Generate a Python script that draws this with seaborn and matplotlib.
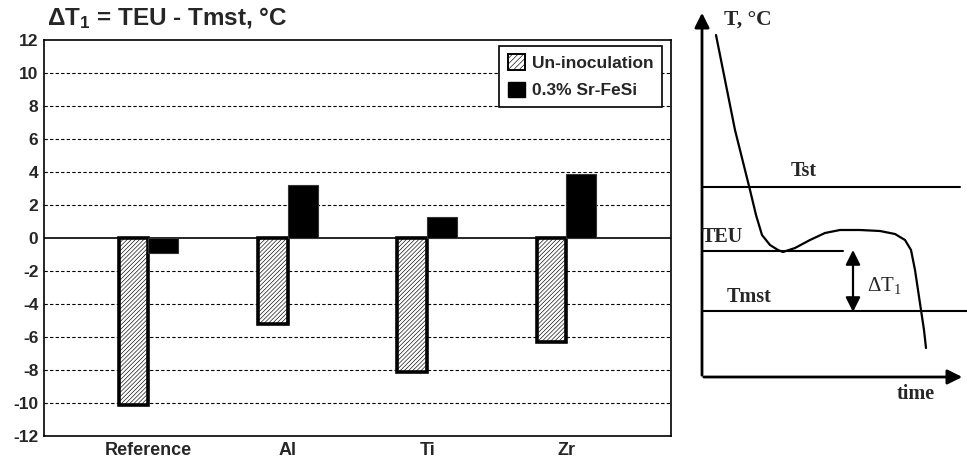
import matplotlib
matplotlib.use("Agg")
import matplotlib.pyplot as plt
import seaborn as sns
import pandas as pd
from matplotlib.patches import Patch

# ---- data ----
categories = ["Reference", "Al", "Ti", "Zr"]
un_inoc = [-10.1, -5.2, -8.1, -6.3]
sr_fesi = [-0.9, 3.2, 1.3, 3.9]
series_names = ["Un-inoculation", "0.3% Sr-FeSi"]
y_ticks = list(range(-12, 13, 2))

# schematic cooling curve (pixel-like coordinates of the sketch panel)
curve_x = [716, 725, 735, 745, 750, 756, 762, 770, 778, 783, 795, 810, 825, 840,
           860, 880, 895, 905, 911, 915, 918, 921, 924, 926]
curve_y = [35, 80, 130, 170, 190, 215, 235, 245, 250, 252, 248, 240, 233, 230,
           230, 231, 234, 240, 250, 270, 290, 310, 330, 348]
level_names = ["Tst", "TEU", "Tmst"]
level_y = [187, 251, 311]
level_x_end = [960, 843, 967]

# ---- style ----
sns.set_theme(style="white")
plt.rcParams['font.family'] = ['Liberation Sans', 'DejaVu Sans']
plt.rcParams['mathtext.fontset'] = 'custom'
plt.rcParams['mathtext.rm'] = 'Liberation Sans'
plt.rcParams['mathtext.bf'] = 'Liberation Sans:bold'
plt.rcParams['hatch.linewidth'] = 0.45

fig = plt.figure(figsize=(9.67, 4.66), dpi=100)
ax = fig.add_axes([44/967, 30/466, (671-44)/967, 396/466])

df = pd.DataFrame({
    "cat": categories * 2,
    "val": un_inoc + sr_fesi,
    "series": [series_names[0]] * len(categories) + [series_names[1]] * len(categories),
})
sns.barplot(data=df, x="cat", y="val", hue="series", order=categories,
            hue_order=series_names, palette=["white", "black"], width=0.43,
            saturation=1, ax=ax, legend=False, zorder=3)

for bar in ax.containers[0]:
    bar.set_hatch("////////")
    bar.set_edgecolor("black")
    bar.set_linewidth(2.6)
for bar in ax.containers[1]:
    bar.set_edgecolor("#333333")
    bar.set_linewidth(0.8)

for t in y_ticks:
    if t in (-12, 12):
        continue
    if t == 0:
        ax.axhline(0, color="black", lw=1.2, zorder=2)
    else:
        ax.axhline(t, color="black", lw=0.8, ls=(0, (3, 2)), zorder=1)

ax.set_ylim(-12, 12)
ax.set_xlim(-0.75, 3.75)
ax.set_yticks(y_ticks)
ax.set_yticklabels([str(t) for t in y_ticks], fontsize=12.5, fontweight="bold")
ax.set_xticks(range(len(categories)))
ax.set_xticklabels(categories, fontsize=13, fontweight="bold")
ax.tick_params(axis="both", length=0, pad=4)
ax.set_xlabel("")
ax.set_ylabel("")
for s in ax.spines.values():
    s.set_color("black")
    s.set_linewidth(1.2)

handles = [Patch(facecolor="white", edgecolor="black", hatch="//////", lw=1.4, label=series_names[0]),
           Patch(facecolor="black", edgecolor="black", label=series_names[1])]
leg = ax.legend(handles=handles, loc="upper right", bbox_to_anchor=(0.989, 0.99),
                frameon=True, fancybox=False, edgecolor="black", framealpha=1,
                prop={"weight": "bold", "size": 12.5}, handlelength=1.0,
                handleheight=1.0, handletextpad=0.4, borderpad=0.5, labelspacing=0.6,
                borderaxespad=0.1)
leg.get_frame().set_linewidth(1.2)

fig.text(47/967, 1 - 18/466, r"Δ$\mathbf{T_1}$ = TEU - Tmst, °C",
         fontsize=17.5, fontweight="bold", ha="left", va="center")

# ---- schematic panel ----
ax2 = fig.add_axes([690/967, 0, 277/967, 1])
ax2.set_xlim(690, 967)
ax2.set_ylim(466, 0)
ax2.axis("off")

ax2.annotate("", xy=(702, 10), xytext=(702, 378),
             arrowprops=dict(arrowstyle="-|>", lw=2, color="black", mutation_scale=22))
ax2.annotate("", xy=(965, 377), xytext=(701, 377),
             arrowprops=dict(arrowstyle="-|>", lw=2, color="black", mutation_scale=22))
for ly, lx in zip(level_y, level_x_end):
    ax2.plot([702, lx], [ly, ly], color="black", lw=1.5)
ax2.plot(curve_x, curve_y, color="black", lw=1.6)
ax2.annotate("", xy=(853, 250), xytext=(853, 312),
             arrowprops=dict(arrowstyle="<|-|>", lw=1.6, color="black", mutation_scale=22,
                             shrinkA=0, shrinkB=0))

serif = ["Liberation Serif", "DejaVu Serif"]
ax2.text(724, 20, "T, °C", fontsize=15.5, fontweight="bold", family=serif, ha="left", va="center")
ax2.text(804, 171, level_names[0], fontsize=14.5, fontweight="bold", family=serif, ha="center", va="center")
ax2.text(702, 237, level_names[1], fontsize=14.5, fontweight="bold", family=serif, ha="left", va="center")
ax2.text(727, 297, level_names[2], fontsize=14.5, fontweight="bold", family=serif, ha="left", va="center")
ax2.text(867, 286, r"Δ$\mathregular{T_1}$", fontsize=15, family=serif, ha="left", va="center")
ax2.text(897, 394, "time", fontsize=14.5, fontweight="bold", family=serif, ha="left", va="center")

fig.savefig("out.png", dpi=100)
